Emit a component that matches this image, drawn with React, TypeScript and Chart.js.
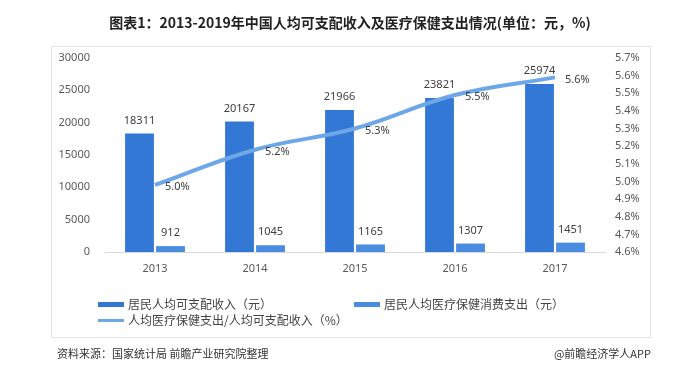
import React, { useEffect, useRef } from "react";
import { Chart, registerables } from "chart.js";

Chart.register(...registerables);

const categories = ["2013", "2014", "2015", "2016", "2017"];
const incomeValues = [18311, 20167, 21966, 23821, 25974];
const healthValues = [912, 1045, 1165, 1307, 1451];
const ratioValues = [4.98, 5.18, 5.3, 5.49, 5.59];
const leftTicks = [0, 5000, 10000, 15000, 20000, 25000, 30000];
const rightTicks = [4.6, 4.7, 4.8, 4.9, 5.0, 5.1, 5.2, 5.3, 5.4, 5.5, 5.6, 5.7];

const titleText = "图表1：2013-2019年中国人均可支配收入及医疗保健支出情况(单位：元，%)";
const seriesNames = [
  "居民人均可支配收入（元）",
  "居民人均医疗保健消费支出（元）",
  "人均医疗保健支出/人均可支配收入（%）",
];
const sourceText = "资料来源：国家统计局 前瞻产业研究院整理";
const creditText = "@前瞻经济学人APP";

const incomeColor = "#3478d6";
const healthColor = "#4a8ce0";
const lineColor = "#6ea7e8";
const FONT = '"Noto Sans", "Noto Sans CJK SC", sans-serif';
const CJK = '"Noto Sans CJK SC", "Noto Sans", sans-serif';

const labelPlugin = {
  id: "valueLabels",
  afterDatasetsDraw(chart: any) {
    const ctx = chart.ctx;
    ctx.save();
    ctx.font = `11px ${FONT}`;
    ctx.fillStyle = "#404040";
    [0, 1].forEach((di) => {
      const meta = chart.getDatasetMeta(di);
      meta.data.forEach((el: any, i: number) => {
        ctx.textAlign = "center";
        ctx.textBaseline = "middle";
        ctx.fillText(String(chart.data.datasets[di].data[i]), el.x, el.y - 13);
      });
    });
    const lm = chart.getDatasetMeta(2);
    lm.data.forEach((el: any, i: number) => {
      ctx.textAlign = "left";
      ctx.textBaseline = "middle";
      ctx.fillText(ratioValues[i].toFixed(1) + "%", el.x + 10, el.y + 2);
    });
    ctx.restore();
  },
};

export default function App() {
  const ref = useRef<HTMLCanvasElement>(null);
  useEffect(() => {
    if (!ref.current) return;
    const chart = new Chart(ref.current, {
      type: "bar",
      data: {
        labels: categories,
        datasets: [
          {
            type: "bar",
            label: seriesNames[0],
            data: incomeValues,
            backgroundColor: incomeColor,
            yAxisID: "y",
            order: 1,
            categoryPercentage: 0.62,
            barPercentage: 0.93,
          },
          {
            type: "bar",
            label: seriesNames[1],
            data: healthValues,
            backgroundColor: healthColor,
            yAxisID: "y",
            order: 1,
            categoryPercentage: 0.62,
            barPercentage: 0.93,
          },
          {
            type: "line",
            label: seriesNames[2],
            data: ratioValues,
            borderColor: lineColor,
            borderWidth: 4,
            pointRadius: 0,
            tension: 0.4,
            yAxisID: "y1",
            order: 0,
          } as any,
        ],
      },
      options: {
        responsive: false,
        animation: false,
        devicePixelRatio: 1,
        layout: { padding: { top: 58, left: 0, right: 0, bottom: 0 } },
        plugins: { legend: { display: false }, tooltip: { enabled: false }, title: { display: false } },
        scales: {
          x: {
            grid: { display: false, drawTicks: false },
            border: { display: true, color: "#d9d9d9" },
            ticks: { color: "#595959", font: { size: 11, family: FONT }, padding: 10 },
            afterFit: (s: any) => {
              s.height = 121;
            },
          },
          y: {
            position: "left",
            min: 0,
            max: 30000,
            grid: { display: false, drawTicks: false },
            border: { display: false },
            ticks: {
              color: "#595959",
              font: { size: 11, family: FONT },
              padding: 15,
              callback: (v: any) => String(v),
            },
            afterBuildTicks: (s: any) => {
              s.ticks = leftTicks.map((v) => ({ value: v }));
            },
            afterFit: (s: any) => {
              s.width = 105;
            },
          },
          y1: {
            position: "right",
            min: 4.6,
            max: 5.7,
            grid: { display: false, drawTicks: false },
            border: { display: false },
            ticks: {
              color: "#595959",
              font: { size: 11, family: FONT },
              padding: 10,
              callback: (v: any) => Number(v).toFixed(1) + "%",
            },
            afterBuildTicks: (s: any) => {
              s.ticks = rightTicks.map((v) => ({ value: v }));
            },
            afterFit: (s: any) => {
              s.width = 77;
            },
          },
        },
      } as any,
      plugins: [labelPlugin],
    });
    return () => chart.destroy();
  }, []);

  const legendText: React.CSSProperties = {
    position: "absolute",
    fontFamily: CJK,
    fontSize: 12,
    color: "#444",
    lineHeight: "16px",
    whiteSpace: "nowrap",
  };

  return (
    <div style={{ position: "absolute", left: 0, top: 0, width: 682, height: 373, background: "#fff", overflow: "hidden" }}>
      <div
        style={{
          position: "absolute",
          left: 51,
          top: 46,
          width: 598,
          height: 290,
          border: "1px solid #e3e3e3",
        }}
      />
      <canvas ref={ref} width={682} height={373} style={{ position: "absolute", left: 0, top: 0, display: "block" }} />
      <div
        style={{
          position: "absolute",
          left: 0,
          top: 12,
          width: 700,
          textAlign: "center",
          fontFamily: CJK,
          fontWeight: 700,
          fontSize: 14,
          color: "#222",
          lineHeight: "20px",
          whiteSpace: "nowrap",
        }}
      >
        {titleText}
      </div>
      <div style={{ position: "absolute", left: 98, top: 302, width: 26, height: 5, background: incomeColor }} />
      <div style={{ ...legendText, left: 128, top: 296 }}>{seriesNames[0]}</div>
      <div style={{ position: "absolute", left: 354, top: 302, width: 26, height: 5, background: healthColor }} />
      <div style={{ ...legendText, left: 384, top: 296 }}>{seriesNames[1]}</div>
      <div style={{ position: "absolute", left: 98, top: 319, width: 26, height: 3, background: lineColor }} />
      <div style={{ ...legendText, left: 128, top: 312 }}>{seriesNames[2]}</div>
      <div style={{ ...legendText, left: 57, top: 345, fontSize: 11, color: "#333" }}>{sourceText}</div>
      <div style={{ ...legendText, left: 500, width: 151, textAlign: "right", top: 345, fontSize: 11, color: "#333" }}>{creditText}</div>
    </div>
  );
}
